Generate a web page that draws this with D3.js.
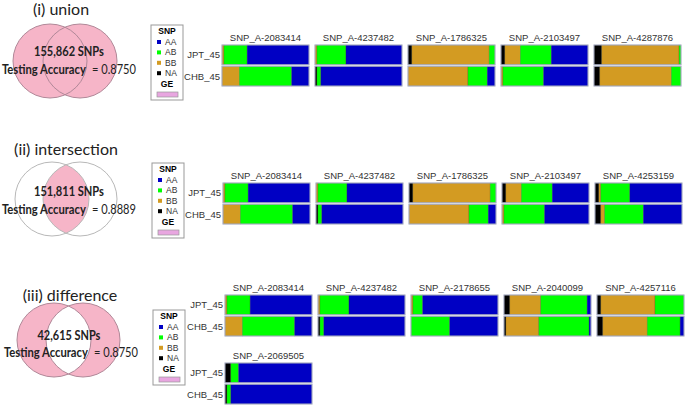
<!DOCTYPE html>
<html>
<head>
<meta charset="utf-8">
<script src="https://cdn.jsdelivr.net/npm/d3@7"></script>
<style>
  body { margin: 0; background: #fff; }
  svg { display: block; }
</style>
</head>
<body>
<script>
// ---------------- data ----------------
var panelTitles = ['(i) union', '(ii) intersection', '(iii) difference'];
var snpTotals = ['155,862', '151,811', '42,615'];
var accuracies = ['0.8750', '0.8889', '0.8750'];
var genotypes = ['AA', 'AB', 'BB', 'NA'];
var populations = ['JPT_45', 'CHB_45'];
var stackOrder = ['NA', 'BB', 'AB', 'AA']; // left to right inside a bar

// counts out of 45 samples, in stackOrder
var unionSnps = ['SNP_A-2083414', 'SNP_A-4237482', 'SNP_A-1786325', 'SNP_A-2103497', 'SNP_A-4287876'];
var unionJPT = [[0,1,12,32], [0,1,15,29], [2,40,3,0], [2,8,16,19], [4,40,1,0]];
var unionCHB = [[0,9,27,9], [1,0,2,42], [0,31,10,4], [0,1,21,23], [3,37,5,0]];

var interSnps = ['SNP_A-2083414', 'SNP_A-4237482', 'SNP_A-1786325', 'SNP_A-2103497', 'SNP_A-4253159'];
var interJPT = [[0,1,12,32], [0,1,15,29], [2,40,3,0], [2,8,16,19], [2,1,15,27]];
var interCHB = [[0,9,27,9], [1,0,2,42], [0,31,10,4], [0,1,21,23], [3,2,20,20]];

var diffSnps = ['SNP_A-2083414', 'SNP_A-4237482', 'SNP_A-2178655', 'SNP_A-2040099', 'SNP_A-4257116', 'SNP_A-2069505'];
var diffJPT = [[0,1,12,32], [0,1,15,29], [0,1,5,39], [3,16,24,2], [2,28,15,0], [3,0,4,38]];
var diffCHB = [[0,9,27,9], [1,0,2,42], [0,0,20,25], [1,17,26,1], [3,23,17,2], [1,0,2,42]];

// ---------------- layout ----------------
var W = 685, H = 405;
var colors = {'AA': '#0000c4', 'AB': '#00ff00', 'BB': '#d39b22', 'NA': '#000000'};
var pink = '#f6b5c8';
var sans = 'Lato, "Open Sans", sans-serif';
var arial = '"Liberation Sans", Arial, sans-serif';

var svg = d3.select('body').append('svg').attr('width', W).attr('height', H);

var panels = [
  {kind: 'union', snps: unionSnps, jpt: unionJPT, chb: unionCHB,
   titleX: 61, titleY: 15, cy: 61, cx1: 50, cx2: 80, r: 37, textY: 56, accX: 2, legX: 151, legY: 25, barX: 222, barY: 38},
  {kind: 'inter', snps: interSnps, jpt: interJPT, chb: interCHB,
   titleX: 66, titleY: 155, cy: 199, cx1: 52, cx2: 80, r: 37, textY: 196, accX: 2, legX: 152, legY: 163, barX: 223, barY: 176},
  {kind: 'diff', snps: diffSnps, jpt: diffJPT, chb: diffCHB,
   titleX: 70, titleY: 301, cy: 340, cx1: 54, cx2: 83, r: 37, textY: 340, accX: 4, legX: 153, legY: 310, barX: 225, barY: 288}
];

var barW = 87, barH = 19, colPitch = 93, perRow = 5, blockH = 68;
var xCount = d3.scaleLinear().domain([0, 45]).range([0, barW]);
var yRow = d3.scaleBand().domain(populations).range([7, 7 + 2 * barH + 3]).paddingInner(0.07);

// squeeze a text horizontally so it spans `width` px starting at x (Calibri is narrower than Lato)
function fitText(sel, x, y, width, anchor){
  var w = sel.node().getComputedTextLength();
  var k = Math.min(1, width / w);
  var x0 = anchor == 'middle' ? x - width / 2 : x;
  sel.attr('x', 0).attr('y', 0).attr('text-anchor', 'start')
    .attr('transform', 'translate(' + x0 + ',' + y + ') scale(' + k + ',1)');
}

panels.forEach(function(p, pi){
  var g = svg.append('g');

  // title
  g.append('text').attr('x', p.titleX).attr('y', p.titleY)
    .attr('text-anchor', 'middle').style('font-family', sans)
    .style('font-size', '16px').style('fill', '#222').text(panelTitles[pi]);

  // venn
  var clipId = 'clip' + pi;
  g.append('clipPath').attr('id', clipId).append('circle')
    .attr('cx', p.cx1).attr('cy', p.cy).attr('r', p.r);
  var fillCircle = (p.kind == 'inter') ? '#fff' : pink;
  var lensFill = (p.kind == 'diff') ? '#fff' : pink;
  var strokeCol = (p.kind == 'inter') ? '#b8b8b8' : '#b08898';
  [p.cx1, p.cx2].forEach(function(cx){
    g.append('circle').attr('cx', cx).attr('cy', p.cy).attr('r', p.r).style('fill', fillCircle);
  });
  g.append('circle').attr('cx', p.cx2).attr('cy', p.cy).attr('r', p.r)
    .attr('clip-path', 'url(#' + clipId + ')').style('fill', lensFill);
  [p.cx1, p.cx2].forEach(function(cx){
    g.append('circle').attr('cx', cx).attr('cy', p.cy).attr('r', p.r)
      .style('fill', 'none').style('stroke', strokeCol).style('stroke-width', 1);
  });

  var t1 = g.append('text').style('font-family', sans).style('font-size', '13px')
    .style('font-weight', 'bold').style('fill', '#222').text(snpTotals[pi] + ' SNPs');
  fitText(t1, 69, p.textY, p.kind == 'diff' ? 63 : 70, 'middle');
  var accY = p.textY + (p.kind == 'diff' ? 17 : 18);
  var t2 = g.append('text').style('font-family', sans).style('font-size', '13px').style('font-weight', 'bold')
    .style('fill', '#222').text('Testing Accuracy');
  fitText(t2, p.accX, accY, 84, 'start');
  var t3 = g.append('text').style('font-family', sans).style('font-size', '13px')
    .style('fill', '#222').text('= ' + accuracies[pi]);
  fitText(t3, p.accX + 90, accY, 44, 'start');

  // legend
  var lg = g.append('g').attr('transform', 'translate(' + p.legX + ',' + p.legY + ')');
  lg.append('rect').attr('width', 32).attr('height', 75)
    .style('fill', '#fff').style('stroke', '#999').style('stroke-width', 1);
  lg.append('text').attr('x', 16).attr('y', 9).attr('text-anchor', 'middle')
    .style('font-family', arial).style('font-size', '8.5px')
    .style('font-weight', 'bold').text('SNP');
  genotypes.forEach(function(gt, i){
    var yy = 17 + i * 10.4;
    lg.append('rect').attr('x', 6).attr('y', yy - 2).attr('width', 4).attr('height', 4).style('fill', colors[gt]);
    lg.append('text').attr('x', 14).attr('y', yy + 3)
      .style('font-family', arial).style('font-size', '8.5px')
      .style('fill', '#333').text(gt);
  });
  lg.append('text').attr('x', 16).attr('y', 62).attr('text-anchor', 'middle')
    .style('font-family', arial).style('font-size', '8.5px')
    .style('font-weight', 'bold').text('GE');
  lg.append('rect').attr('x', 6).attr('y', 67).attr('width', 21).attr('height', 5)
    .style('fill', '#e8a6e0').style('stroke', '#999').style('stroke-width', 0.7);

  // stacked bars
  p.snps.forEach(function(snp, ci){
    var col = ci % perRow, row = Math.floor(ci / perRow);
    var bx = p.barX + col * colPitch, by = p.barY + row * blockH;
    var cg = g.append('g').attr('transform', 'translate(' + bx + ',' + by + ')');
    cg.append('text').attr('x', barW / 2).attr('y', 3).attr('text-anchor', 'middle')
      .style('font-family', arial).style('font-size', '9.5px')
      .style('fill', '#333').text(snp);

    var rows = [p.jpt[ci], p.chb[ci]];
    rows.forEach(function(counts, ri){
      var pop = populations[ri];
      var y0 = yRow(pop);
      var acc0 = 0;
      var segs = counts.map(function(c, k){
        var s = {gt: stackOrder[k], x0: acc0, x1: acc0 + c};
        acc0 += c;
        return s;
      }).filter(function(s){ return s.x1 > s.x0; });
      cg.selectAll(null).data(segs).enter().append('rect')
        .attr('x', function(d){ return xCount(d.x0); })
        .attr('y', y0)
        .attr('width', function(d){ return xCount(d.x1) - xCount(d.x0); })
        .attr('height', yRow.bandwidth())
        .style('fill', function(d){ return colors[d.gt]; })
        .style('stroke', 'rgba(60,60,30,0.35)').style('stroke-width', 0.6);
      cg.append('rect').attr('x', 0).attr('y', y0).attr('width', barW).attr('height', yRow.bandwidth())
        .style('fill', 'none').style('stroke', '#aab0cc').style('stroke-width', 1);

      if (col == 0) {
        cg.append('text').attr('x', -2).attr('y', y0 + yRow.bandwidth() / 2 + 3.5)
          .attr('text-anchor', 'end')
          .style('font-family', arial).style('font-size', '9.5px')
          .style('fill', '#333').text(pop);
      }
    });
  });
});
</script>
</body>
</html>
